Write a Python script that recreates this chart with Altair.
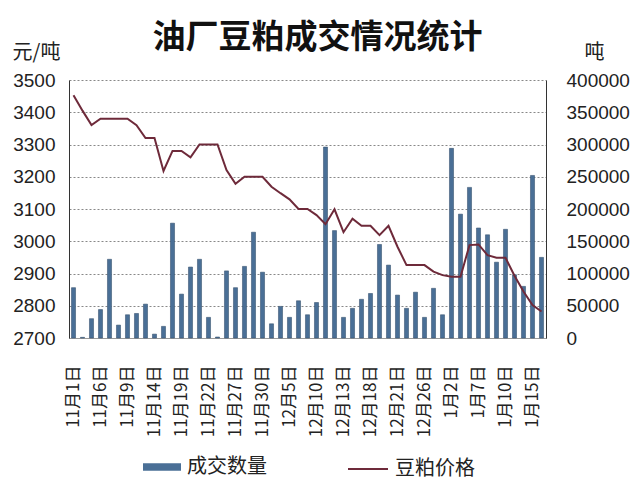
import altair as alt
import pandas as pd

dates = ["11月1日", "11月2日", "11月3日", "11月6日", "11月7日", "11月8日", "11月9日", "11月10日",
         "11月13日", "11月14日", "11月15日", "11月16日", "11月19日", "11月20日", "11月21日", "11月22日",
         "11月23日", "11月24日", "11月27日", "11月28日", "11月29日", "11月30日", "12月1日", "12月4日",
         "12月5日", "12月6日", "12月7日", "12月10日", "12月11日", "12月12日", "12月13日", "12月14日",
         "12月15日", "12月18日", "12月19日", "12月20日", "12月21日", "12月22日", "12月25日", "12月26日",
         "12月27日", "12月28日", "1月2日", "1月3日", "1月4日", "1月7日", "1月8日", "1月9日",
         "1月10日", "1月11日", "1月12日", "1月15日", "1月16日"]

volume = [78000, 1000, 30000, 44000, 122000, 20000, 36000, 38000, 52500, 6000, 18000, 178000,
          68000, 110000, 122000, 32000, 1500, 104000, 78000, 111000, 164000, 102000, 22000, 49000,
          32000, 57700, 36000, 55000, 296000, 166500, 32000, 46000, 60000, 69000, 145000, 113000,
          66500, 46000, 71000, 32000, 77000, 36000, 294000, 192000, 233500, 170500, 160000, 117500,
          168500, 98000, 80000, 252000, 125000]

price = [3453, 3405, 3360, 3380, 3380, 3380, 3380, 3360, 3320, 3320, 3218, 3280, 3280, 3260,
         3300, 3300, 3300, 3221, 3178, 3200, 3200, 3200, 3169, 3149, 3130, 3100, 3100, 3081,
         3053, 3099, 3028, 3070, 3048, 3048, 3019, 3048, 2983, 2926, 2926, 2926, 2906, 2895,
         2890, 2890, 2988, 2990, 2957, 2949, 2949, 2893, 2844, 2802, 2782]

series_names = ["成交数量", "豆粕价格"]
left_ticks = list(range(2700, 3501, 100))
right_ticks = list(range(0, 400001, 50000))
shown_dates = [dates[i] for i in range(0, len(dates), 3)]

df = pd.DataFrame({"date": dates, "volume": volume, "price": price,
                   "s1": series_names[0], "s2": series_names[1]})

CJK = "Noto Sans CJK SC"
NUM = "Liberation Sans"
BAR = "#4a6f96"
LINE = "#6e2a3a"

x = alt.X("date:N", sort=dates,
          scale=alt.Scale(paddingInner=0.55, paddingOuter=0.275),
          axis=alt.Axis(values=shown_dates, labelAngle=270, labelAlign="right",
                        labelBaseline="middle", labelFont=CJK, labelFontSize=17,
                        labelColor="#222", labelPadding=27, ticks=False, grid=False,
                        domainColor="#999", title=None, labelOverlap=False))

bars = alt.Chart(df).mark_bar(stroke="#3a5572", strokeWidth=0.6).encode(
    x=x,
    y=alt.Y("volume:Q",
            scale=alt.Scale(domain=[0, 400000], nice=False),
            axis=alt.Axis(orient="right", values=right_ticks, format="d", grid=False,
                          ticks=False, domainColor="#333", labelFont=NUM, labelFontSize=19,
                          labelColor="#222", labelPadding=20,
                          title="吨", titleAngle=0, titleX=48, titleY=-28,
                          titleAlign="center", titleBaseline="middle", titleFont=CJK,
                          titleFontSize=20, titleFontWeight="normal", titleColor="#222")),
    color=alt.Color("s1:N", scale=alt.Scale(domain=[series_names[0]], range=[BAR]),
                    legend=alt.Legend(orient="none", legendX=74, legendY=368, title=None,
                                      symbolType="M-1,-0.2L1,-0.2L1,0.2L-1,0.2Z",
                                      symbolSize=1444, symbolStrokeWidth=0,
                                      labelFont=CJK, labelFontSize=20, labelColor="#222",
                                      labelOffset=6)),
)

line = alt.Chart(df).mark_line(strokeWidth=2).encode(
    x=x,
    y=alt.Y("price:Q",
            scale=alt.Scale(domain=[2700, 3500], nice=False, zero=False),
            axis=alt.Axis(orient="left", values=left_ticks, format="d", grid=True,
                          gridDash=[2, 2], gridColor="#888", gridWidth=1, ticks=False,
                          domainColor="#333", labelFont=NUM, labelFontSize=19,
                          labelColor="#222", labelPadding=14,
                          title="元/吨", titleAngle=0, titleX=-33, titleY=-28,
                          titleAlign="center", titleBaseline="middle", titleFont=CJK,
                          titleFontSize=20, titleFontWeight="normal", titleColor="#222")),
    stroke=alt.Stroke("s2:N", scale=alt.Scale(domain=[series_names[1]], range=[LINE]),
                      legend=alt.Legend(orient="none", legendX=278, legendY=368, title=None,
                                        symbolType="stroke", symbolSize=1600,
                                        symbolStrokeWidth=2,
                                        labelFont=CJK, labelFontSize=20, labelColor="#222",
                                        labelOffset=6)),
)

chart = alt.layer(bars, line).resolve_scale(y="independent").properties(
    width=477, height=258,
    autosize=alt.AutoSizeParams(type="none"),
    padding={"left": 61, "top": 72, "right": 86, "bottom": 150},
    title=alt.TitleParams("油厂豆粕成交情况统计", font=CJK, fontSize=33, fontWeight="bold",
                          color="#111", anchor="middle", dx=10, offset=-13),
    background="white",
).configure_view(stroke=None)

chart.save("out.html", embed_options={"renderer": "svg", "actions": False})
